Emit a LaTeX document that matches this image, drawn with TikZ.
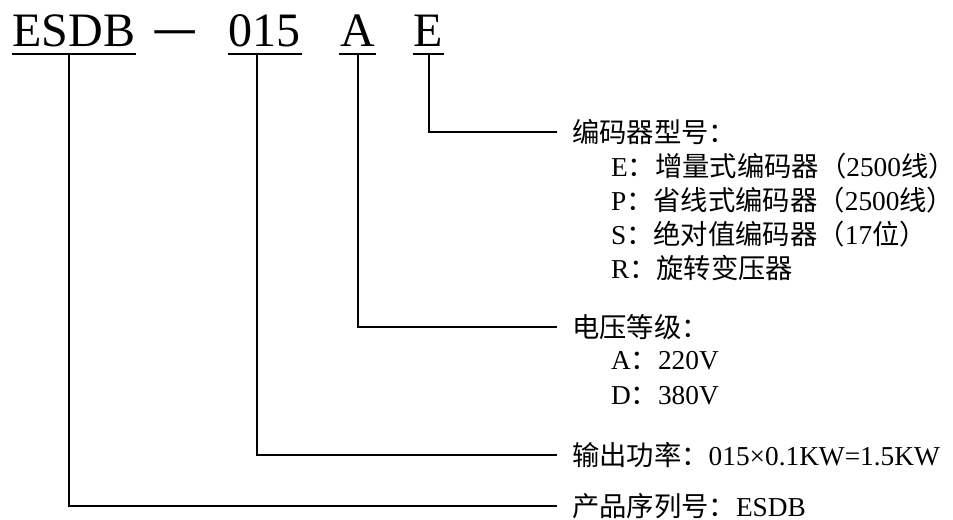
\documentclass[tikz,border=0pt]{standalone}
\usepackage{fontspec}
\setmainfont{Liberation Serif}
\newfontfamily\cjk{Noto Sans CJK SC}
\newcommand{\zh}[1]{{\cjk #1}}
\begin{document}
\begin{tikzpicture}[x=0.75pt,y=-0.75pt,line width=1.5pt,line join=miter,
  code/.style={font=\fontsize{36}{40}\selectfont,inner xsep=0pt,inner ysep=4.5pt,text depth=0pt,anchor=base},
  item/.style={font=\fontsize{20.5}{24}\selectfont,inner sep=0pt,anchor=west},
  link/.style={shorten >=10.5pt}]
\useasboundingbox (0,0) rectangle (953,520);
% model code
\node[code] (esdb) at (74,47) {ESDB};
\node[code,font=\cjk\fontsize{38}{40}\selectfont] (dash) at (175,47) {—};
\node[code] (num) at (264.5,47) {015};
\node[code] (vcode) at (357.5,47) {A};
\node[code] (ecode) at (428.5,47) {E};
\foreach \n in {esdb,num,vcode,ecode}
  \draw (\n.south west) -- (\n.south east);
% explanations
\node[item] (enc) at (571,132) {\zh{编码器型号：}};
\node[item] (encE) at (610,166) {E\zh{：增量式编码器（}2500\zh{线）}};
\node[item] (encP) at (610,200) {P\zh{：省线式编码器（}2500\zh{线）}};
\node[item] (encS) at (610,234) {S\zh{：绝对值编码器（}17\zh{位）}};
\node[item] (encR) at (610,268) {R\zh{：旋转变压器}};
\node[item] (volt) at (571,327) {\zh{电压等级：}};
\node[item] (voltA) at (610,361) {A\zh{：}220V};
\node[item] (voltD) at (610,396) {D\zh{：}380V};
\node[item] (power) at (571,455) {\zh{输出功率：}015×0.1KW=1.5KW};
\node[item] (serial) at (571,506) {\zh{产品序列号：}ESDB};
% connectors
\draw[link] (ecode.south) |- (enc.west);
\draw[link] (vcode.south) |- (volt.west);
\draw[link] ([xshift=-6pt]num.south) |- (power.west);
\draw[link] ([xshift=-4pt]esdb.south) |- (serial.west);
\end{tikzpicture}
\end{document}
